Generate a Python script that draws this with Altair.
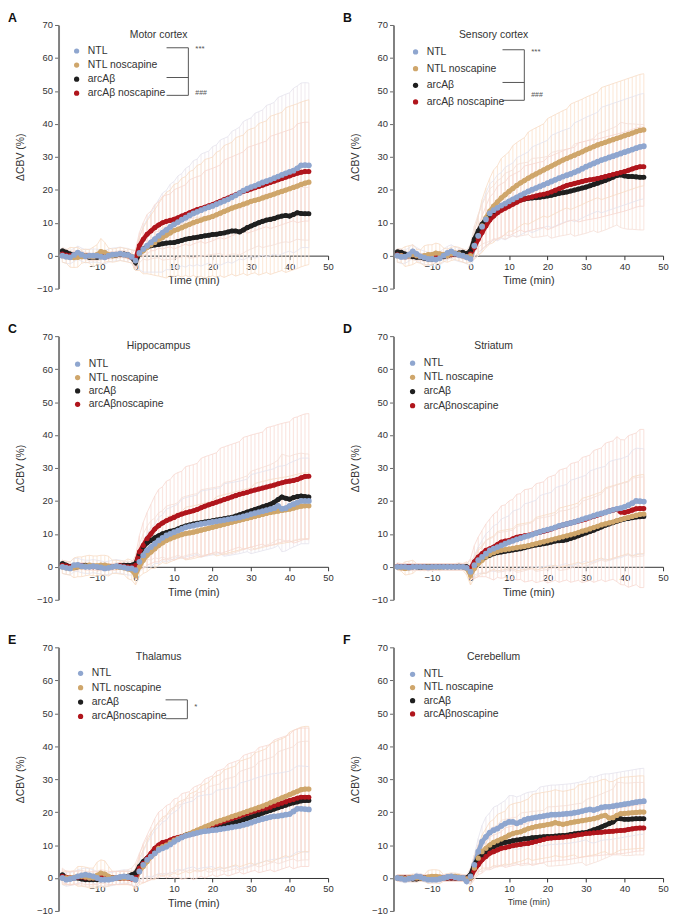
import altair as alt
import pandas as pd

FONT = "Liberation Sans"

# sample times (min)
TIME = [-19, -18, -17, -16, -15, -14, -13, -12, -11, -10, -9, -8, -7, -6, -5, -4, -3, -2, -1,
        0, 1, 2, 3, 4, 5, 6, 7, 8, 9, 10, 11, 12, 13, 14, 15, 16, 17, 18, 19, 20,
        21, 22, 23, 24, 25, 26, 27, 28, 29, 30, 31, 32, 33, 34, 35, 36, 37, 38, 39, 40,
        41, 42, 43, 44, 45]

LABELS_AB = ["NTL", "NTL noscapine", "arcAβ", "arcAβ noscapine"]
LABELS_CF = ["NTL", "NTL noscapine", "arcAβ", "arcAβnoscapine"]
DOT_COLORS = ["#8fa6cf", "#cfa66b", "#1f1f1f", "#b0151c"]
BAR_COLORS = ["#efe9ee", "#fbe5d2", "#f9e5dc", "#f9e0da"]
ENV_COLORS = ["#e5e3ee", "#f8dcc6", "#f5e0d8", "#f7d8d1"]
DRAW_ORDER = [3, 2, 0, 1]
DOT_SIZE = [34, 28, 26, 26]

LETTERS = ["A", "B", "C", "D", "E", "F"]
REGIONS = ["Motor cortex", "Sensory cortex", "Hippocampus", "Striatum", "Thalamus", "Cerebellum"]

# ---------------- mean ΔCBV (%) ----------------
A_NTL = [0.0, -0.3, -0.5, 0.2, 0.9, 0.3, -0.2, 0.0, 0.0, 0.0, -0.3, -0.5, 0.0, 0.3, 0.4, 0.6, 0.3, 0.2, -0.4,
         -1.5, 0.8, 2.0, 3.0, 4.0, 5.0, 6.0, 7.0, 7.8, 8.7, 9.5, 10.2, 10.9, 11.5, 12.2, 12.8, 13.3, 13.8, 14.3, 14.7, 15.1, 15.6, 16.1, 16.6, 17.1, 17.7, 18.3, 19.0, 19.7, 20.3, 20.8, 21.2, 21.7, 22.2, 22.6, 23.0, 23.5, 24.0, 24.5, 25.0, 25.4, 25.8, 26.5, 27.4, 27.5, 27.4]
A_NOS = [0.0, -0.3, -0.5, -0.6, -0.5, -0.3, 0.0, -0.2, -0.4, 0.3, 1.2, 1.0, 0.3, 0.0, 0.2, 0.5, 0.3, 0.0, -0.2,
         -1.5, 0.5, 1.5, 2.5, 3.3, 4.0, 4.8, 5.5, 6.2, 6.9, 7.6, 8.0, 8.5, 9.0, 9.5, 10.0, 10.4, 10.8, 11.2, 11.5, 11.9, 12.4, 12.9, 13.4, 13.9, 14.4, 14.8, 15.2, 15.6, 16.0, 16.5, 16.8, 17.1, 17.5, 17.9, 18.3, 18.7, 19.1, 19.5, 19.9, 20.3, 20.7, 21.1, 21.6, 22.0, 22.3]
A_ARC = [1.5, 1.0, 0.5, 0.3, 0.5, 0.2, -0.2, -0.5, -0.5, -0.5, -0.3, 0.0, 0.0, 0.0, 0.2, 0.3, 0.5, 0.3, -0.5,
         -2.0, 0.8, 2.0, 2.6, 3.0, 3.2, 3.4, 3.6, 3.8, 3.9, 4.0, 4.3, 4.6, 5.0, 5.2, 5.4, 5.6, 5.8, 6.0, 6.2, 6.4, 6.5, 6.7, 6.9, 7.2, 7.5, 7.5, 7.2, 7.8, 8.5, 9.0, 9.5, 10.0, 10.4, 10.8, 11.0, 11.3, 11.7, 12.0, 12.2, 12.0, 12.5, 13.0, 12.8, 12.7, 12.7]
A_ARCNOS = [0.5, 0.2, 0.0, 0.3, 0.5, 0.2, 0.0, -0.2, -0.3, 0.0, 0.0, -0.3, 0.0, 0.3, 0.3, 0.5, 0.3, 0.0, -0.5,
            -1.0, 3.0, 5.0, 6.5, 7.5, 8.5, 9.3, 10.0, 10.4, 10.7, 11.0, 11.5, 12.0, 12.5, 13.0, 13.5, 14.0, 14.3, 14.7, 15.1, 15.5, 16.0, 16.5, 17.0, 17.5, 18.0, 18.5, 19.0, 19.5, 19.8, 20.2, 20.6, 21.0, 21.4, 21.8, 22.2, 22.6, 23.0, 23.4, 23.8, 24.2, 24.6, 25.0, 25.3, 25.5, 25.5]

B_NTL = [0.0, -0.4, -0.3, 0.3, 1.3, 0.5, -0.2, -0.6, -1.0, -1.0, -1.2, -0.8, 0.0, 0.8, 1.3, 0.6, 0.2, 0.0, -0.5,
         -1.0, 3.0, 6.0, 8.8, 11.0, 12.8, 13.8, 14.5, 15.2, 15.8, 16.5, 17.1, 17.7, 18.3, 18.9, 19.5, 20.0, 20.5, 21.0, 21.5, 22.0, 22.5, 23.0, 23.5, 24.0, 24.4, 24.8, 25.3, 25.8, 26.4, 27.0, 27.5, 28.0, 28.5, 29.0, 29.4, 29.8, 30.2, 30.6, 31.0, 31.4, 31.8, 32.2, 32.6, 33.0, 33.2]
B_NOS = [0.0, 0.0, -0.3, 0.0, 0.3, 0.0, -0.3, 0.0, 0.3, 0.3, 0.8, 0.5, 0.3, 0.0, 0.5, 0.8, 0.5, 0.0, -0.3,
         0.0, 3.0, 6.0, 9.0, 11.5, 13.5, 15.0, 16.3, 17.5, 18.5, 19.5, 20.4, 21.3, 22.1, 22.8, 23.5, 24.2, 24.8, 25.4, 26.0, 26.6, 27.2, 27.8, 28.4, 29.0, 29.5, 30.0, 30.5, 31.0, 31.5, 32.1, 32.6, 33.1, 33.6, 34.0, 34.4, 34.8, 35.2, 35.6, 36.0, 36.4, 36.8, 37.2, 37.6, 38.0, 38.2]
B_ARC = [1.2, 1.0, 0.5, 0.0, -0.3, -0.5, -0.5, -0.8, -1.0, -1.0, -0.8, -0.5, -0.3, 0.0, 0.3, 0.5, 0.8, 1.0, 0.5,
         1.5, 5.0, 7.5, 9.5, 11.0, 12.3, 13.2, 13.8, 14.5, 15.0, 15.5, 16.0, 16.6, 17.0, 17.2, 17.4, 17.5, 17.6, 17.7, 17.9, 18.1, 18.3, 18.6, 18.9, 19.1, 19.3, 19.6, 19.9, 20.2, 20.5, 20.8, 21.2, 21.6, 22.0, 22.4, 22.8, 23.3, 23.8, 24.3, 24.5, 24.2, 24.0, 24.0, 23.9, 23.8, 23.8]
B_ARCNOS = [0.3, 0.0, -0.3, 0.0, 0.3, 0.0, -0.3, -0.5, -0.3, 0.0, 0.0, 0.3, 0.0, 0.0, 0.3, 0.5, 0.3, 0.0, -0.3,
            0.5, 2.5, 5.0, 7.0, 9.0, 10.8, 12.0, 13.0, 13.8, 14.4, 15.0, 15.6, 16.2, 16.8, 17.2, 17.5, 17.8, 18.1, 18.4, 18.6, 18.9, 19.3, 19.8, 20.3, 20.8, 21.3, 21.6, 21.9, 22.2, 22.5, 22.8, 23.0, 23.2, 23.4, 23.7, 24.0, 24.3, 24.6, 24.9, 25.2, 25.5, 25.9, 26.3, 26.7, 27.0, 27.0]

C_NTL = [0.0, -0.3, -0.5, 0.5, 0.6, 0.2, 0.0, 0.0, 0.2, 0.0, -0.2, -0.5, -0.3, 0.0, 0.2, 0.0, -0.2, -0.5, -0.5,
         -1.0, 1.5, 3.5, 5.0, 6.0, 7.0, 8.0, 8.8, 9.5, 10.0, 10.5, 11.0, 11.5, 12.0, 12.3, 12.5, 12.8, 13.0, 13.2, 13.4, 13.6, 13.8, 14.0, 14.2, 14.4, 14.6, 14.8, 15.0, 15.3, 15.6, 16.0, 16.3, 16.6, 16.9, 17.2, 17.5, 17.8, 18.5, 17.6, 17.8, 18.5, 19.0, 19.5, 20.0, 20.0, 20.0]
C_NOS = [0.0, -0.3, -0.5, -0.3, 0.0, 0.0, 0.3, 0.5, 0.3, 0.3, 0.5, 0.5, 0.2, 0.0, 0.0, -0.2, -0.3, -0.6, -1.0,
         -2.5, 0.0, 2.0, 3.5, 4.5, 5.5, 6.5, 7.3, 8.0, 8.5, 9.0, 9.4, 9.8, 10.1, 10.3, 10.5, 10.8, 11.1, 11.4, 11.7, 12.0, 12.3, 12.6, 12.9, 13.2, 13.5, 13.8, 14.1, 14.4, 14.7, 15.0, 15.3, 15.6, 15.9, 16.2, 16.5, 16.7, 16.9, 17.1, 17.3, 17.5, 17.8, 18.1, 18.4, 18.5, 18.5]
C_ARC = [1.0, 0.5, 0.0, -0.2, 0.0, 0.2, 0.5, 0.3, 0.0, 0.0, -0.2, 0.0, 0.0, 0.0, 0.2, 0.3, 0.5, 0.5, 0.5,
         1.0, 4.0, 6.0, 7.3, 8.0, 8.8, 9.4, 10.0, 10.4, 10.8, 11.0, 11.5, 12.0, 12.4, 12.7, 13.0, 13.2, 13.4, 13.6, 13.8, 14.0, 14.2, 14.4, 14.6, 14.8, 15.0, 15.4, 15.8, 16.2, 16.6, 17.0, 17.4, 17.8, 18.2, 18.6, 19.0, 19.6, 20.4, 21.2, 20.8, 20.5, 21.0, 21.3, 21.5, 21.3, 21.2]
C_ARCNOS = [0.5, 0.3, 0.0, 0.0, 0.2, 0.3, 0.0, 0.0, 0.0, 0.0, 0.0, 0.2, 0.0, 0.0, 0.0, 0.3, 0.2, 0.0, 0.0,
            0.5, 4.5, 6.5, 8.5, 10.0, 11.5, 12.5, 13.3, 14.0, 14.5, 15.0, 15.6, 16.0, 16.4, 16.7, 17.0, 17.4, 17.9, 18.4, 18.8, 19.2, 19.6, 20.0, 20.4, 20.8, 21.2, 21.6, 22.0, 22.3, 22.6, 23.0, 23.3, 23.6, 23.9, 24.2, 24.5, 24.8, 25.2, 25.5, 25.8, 26.0, 26.2, 26.5, 27.0, 27.4, 27.5]

D_NTL = [0.0, 0.0, 0.0, -0.2, 0.0, 0.0, 0.0, 0.0, -0.2, 0.0, 0.0, 0.0, 0.0, 0.0, 0.0, 0.0, 0.0, 0.0, -0.3,
         -1.5, 0.5, 2.0, 3.0, 4.0, 5.0, 5.5, 6.0, 6.5, 7.0, 7.5, 7.9, 8.3, 8.7, 9.1, 9.4, 9.8, 10.2, 10.6, 11.0, 11.3, 11.6, 12.0, 12.4, 12.7, 13.0, 13.3, 13.6, 14.0, 14.4, 14.8, 15.1, 15.5, 15.9, 16.2, 16.5, 16.9, 17.3, 17.6, 17.8, 18.2, 18.7, 19.3, 20.0, 19.9, 19.8]
D_NOS = [0.0, -0.3, -0.5, -0.3, 0.0, 0.0, 0.0, -0.2, 0.0, -0.2, 0.0, -0.2, 0.0, 0.0, 0.0, 0.0, 0.0, 0.0, -0.5,
         -2.5, -0.5, 1.0, 2.0, 3.0, 3.8, 4.3, 4.7, 5.0, 5.2, 5.4, 5.6, 5.8, 6.0, 6.2, 6.4, 6.7, 7.0, 7.3, 7.6, 7.9, 8.2, 8.5, 8.8, 9.1, 9.4, 9.7, 10.0, 10.4, 10.8, 11.1, 11.5, 11.9, 12.3, 12.7, 13.0, 13.3, 13.6, 14.0, 14.3, 14.7, 15.0, 15.3, 15.6, 15.9, 16.0]
D_ARC = [0.0, 0.0, 0.0, 0.0, 0.0, 0.0, -0.2, 0.0, 0.0, 0.0, 0.0, 0.0, 0.0, 0.0, 0.0, 0.0, 0.2, 0.0, 0.0,
         -1.0, 0.0, 1.5, 2.5, 3.0, 3.5, 4.0, 4.3, 4.5, 4.7, 4.9, 5.1, 5.3, 5.5, 5.8, 6.1, 6.4, 6.6, 6.8, 7.0, 7.2, 7.5, 7.8, 7.9, 8.0, 8.2, 8.6, 9.0, 9.4, 9.9, 10.3, 10.7, 11.1, 11.6, 12.1, 12.6, 13.0, 13.4, 13.8, 14.2, 14.5, 14.7, 14.9, 15.1, 15.2, 15.3]
D_ARCNOS = [0.2, 0.0, 0.0, 0.0, 0.0, 0.0, 0.0, 0.0, -0.2, 0.0, 0.0, 0.0, 0.0, 0.0, 0.0, 0.0, 0.0, 0.0, -0.2,
            -0.5, 1.5, 3.0, 4.0, 5.0, 5.5, 6.0, 6.8, 7.5, 7.8, 8.0, 8.5, 9.0, 9.2, 9.4, 9.6, 9.9, 10.2, 10.5, 10.8, 11.1, 11.5, 11.9, 12.3, 12.7, 13.0, 13.3, 13.6, 13.9, 14.2, 14.5, 14.9, 15.3, 15.7, 16.1, 16.5, 16.9, 17.2, 17.5, 16.6, 16.5, 16.8, 17.2, 17.6, 17.7, 17.7]

E_NTL = [0.0, -0.5, -0.3, 0.0, 0.5, 0.8, 1.0, 0.8, 0.5, 0.0, -0.5, -0.5, -0.5, -0.3, 0.0, 0.3, 0.5, 0.3, 0.0,
         -0.5, 2.0, 4.0, 5.5, 6.5, 7.5, 8.5, 9.0, 9.5, 10.2, 11.0, 11.7, 12.3, 12.8, 13.1, 13.4, 13.7, 14.0, 14.2, 14.3, 14.5, 14.6, 14.8, 15.0, 15.2, 15.4, 15.6, 15.8, 16.1, 16.4, 16.8, 17.2, 17.6, 17.9, 18.2, 18.5, 18.7, 18.8, 19.0, 19.2, 19.4, 20.2, 21.0, 21.0, 20.9, 20.8]
E_NOS = [0.0, 0.0, 0.0, 0.2, 0.5, 0.5, 0.3, 0.0, 0.0, 0.8, 1.5, 1.2, 0.5, 0.0, 0.0, 0.0, 0.0, 0.0, 0.0,
         -0.5, 2.0, 3.5, 5.0, 6.5, 7.5, 9.0, 9.5, 10.0, 10.8, 11.5, 12.0, 12.5, 13.0, 13.5, 14.0, 14.5, 15.0, 15.5, 16.0, 16.5, 17.0, 17.4, 17.8, 18.2, 18.6, 19.0, 19.4, 19.8, 20.2, 20.6, 21.0, 21.4, 21.8, 22.3, 22.8, 23.3, 23.8, 24.3, 24.8, 25.3, 25.8, 26.3, 26.8, 27.0, 27.0]
E_ARC = [1.0, 0.0, -0.2, 0.0, 0.0, -0.3, -0.5, -0.5, -0.5, -0.5, -0.5, -0.5, -0.3, 0.0, 0.0, 0.0, 0.3, 0.5, 1.0,
         1.5, 3.5, 5.0, 6.0, 7.0, 8.0, 9.0, 9.5, 10.0, 10.8, 11.5, 12.0, 12.5, 13.0, 13.3, 13.5, 13.8, 14.1, 14.4, 14.7, 15.0, 15.3, 15.6, 15.9, 16.2, 16.5, 16.9, 17.3, 17.7, 18.1, 18.5, 18.9, 19.3, 19.7, 20.1, 20.5, 20.9, 21.3, 21.7, 22.1, 22.5, 22.8, 23.1, 23.4, 23.5, 23.5]
E_ARCNOS = [0.5, 0.2, 0.0, 0.0, 0.2, 0.3, 0.0, 0.0, 0.0, 0.0, 0.5, 0.3, 0.0, 0.0, 0.0, 0.0, 0.0, 0.0, -0.3,
            0.0, 3.0, 4.5, 6.0, 7.5, 9.0, 10.0, 10.8, 11.0, 11.5, 12.0, 12.3, 12.6, 12.9, 13.2, 13.5, 14.0, 14.5, 15.0, 15.5, 16.0, 16.4, 16.8, 17.2, 17.6, 18.0, 18.4, 18.8, 19.2, 19.6, 20.0, 20.3, 20.6, 20.9, 21.2, 21.5, 21.9, 22.3, 22.7, 23.1, 23.5, 23.8, 24.2, 24.5, 24.5, 24.5]

F_NTL = [0.0, -0.2, -0.5, -0.2, 0.0, 0.5, 0.3, -0.2, -0.5, -0.5, -0.5, -0.3, 0.0, 0.3, 0.5, 0.2, 0.0, 0.0, -1.0,
         0.5, 4.0, 8.0, 11.0, 12.5, 13.8, 14.5, 15.0, 15.8, 16.5, 17.0, 17.0, 16.6, 17.0, 17.6, 18.0, 18.2, 18.4, 18.6, 18.8, 19.0, 19.2, 19.2, 19.3, 19.4, 19.5, 19.6, 19.8, 20.0, 20.3, 20.6, 20.8, 20.6, 21.0, 21.4, 21.6, 21.6, 21.8, 22.0, 22.2, 22.4, 22.6, 22.8, 23.0, 23.2, 23.3]
F_NOS = [0.0, 0.0, -0.2, 0.0, 0.2, 0.0, 0.0, 0.0, 0.3, 0.5, 0.5, 0.3, 0.0, 0.3, 0.5, 0.5, 0.3, 0.0, -0.3,
         0.0, 3.0, 6.0, 8.0, 9.0, 10.0, 10.8, 11.3, 11.8, 12.3, 13.0, 13.5, 13.8, 14.0, 14.5, 15.0, 15.3, 15.6, 15.8, 16.0, 16.2, 16.4, 16.8, 16.5, 16.3, 16.5, 16.8, 17.0, 17.2, 17.4, 17.6, 17.8, 18.0, 18.3, 18.8, 19.0, 18.2, 18.3, 19.0, 19.5, 19.6, 19.7, 19.8, 19.9, 20.0, 20.0]
F_ARC = [0.0, 0.0, 0.0, -0.2, -0.3, -0.3, 0.0, 0.0, 0.0, 0.0, 0.0, 0.0, 0.0, 0.0, 0.0, 0.0, 0.0, 0.0, 0.0,
         1.0, 4.0, 6.0, 7.0, 8.0, 9.0, 9.5, 10.0, 10.5, 10.8, 11.0, 11.3, 11.5, 11.7, 11.9, 12.0, 12.2, 12.3, 12.4, 12.5, 12.6, 12.6, 12.7, 12.8, 12.9, 13.0, 13.2, 13.4, 13.6, 13.7, 13.8, 14.2, 14.6, 15.0, 15.5, 16.0, 16.5, 17.0, 18.0, 18.0, 17.8, 17.8, 17.9, 18.0, 18.0, 18.0]
F_ARCNOS = [0.0, 0.0, 0.0, 0.0, 0.0, 0.0, 0.2, 0.0, 0.0, 0.0, 0.0, 0.0, 0.0, 0.0, 0.0, 0.0, 0.0, 0.0, -0.2,
            0.0, 2.5, 4.0, 5.5, 6.5, 7.5, 8.0, 8.5, 9.0, 9.2, 9.5, 9.8, 10.0, 10.2, 10.4, 10.5, 10.8, 11.1, 11.4, 11.7, 12.0, 12.1, 12.2, 12.3, 12.4, 12.5, 12.7, 12.9, 13.1, 13.3, 13.5, 13.6, 13.7, 13.8, 13.9, 14.0, 14.1, 14.2, 14.3, 14.4, 14.5, 14.7, 14.9, 15.1, 15.2, 15.2]

# ---------------- error (±, %) ----------------
A_NTL_E = [2, 2, 2, 2, 2, 2, 2, 2, 2, 2, 2, 2, 2, 2, 2, 2, 2, 2, 2,
           3, 5, 7, 8, 9, 10, 11, 12, 12, 13, 13, 14, 14, 15, 15, 16, 16, 17, 17, 17, 18, 18, 19, 19, 19, 20, 20, 20, 21, 21, 21, 22, 22, 22, 23, 23, 23, 24, 24, 24, 24, 25, 25, 25, 25, 25]
A_NOS_E = [2, 2, 3, 3, 3, 2, 2, 2, 3, 3, 4, 3, 2, 2, 2, 2, 2, 2, 2,
           3, 5, 7, 8, 9, 10, 11, 12, 13, 13, 14, 14, 15, 15, 16, 16, 17, 17, 18, 18, 18, 19, 19, 20, 20, 20, 21, 21, 21, 22, 22, 22, 23, 23, 23, 24, 24, 24, 24, 25, 25, 25, 25, 25, 25, 25]
A_ARC_E = [1, 1, 1, 1, 1, 1, 1, 1, 1, 1, 1, 1, 1, 1, 1, 1, 1, 1, 1,
           2, 3, 3, 4, 4, 4, 4, 5, 5, 5, 5, 5, 5, 5, 6, 6, 6, 6, 6, 6, 6, 6, 6, 7, 7, 7, 7, 7, 7, 7, 7, 7, 7, 8, 8, 8, 8, 8, 8, 8, 8, 8, 8, 8, 8, 8]
A_ARCNOS_E = [1, 1, 1, 1, 1, 1, 1, 1, 1, 1, 1, 1, 1, 1, 1, 1, 1, 1, 1,
              3, 4, 5, 6, 6, 7, 7, 8, 8, 8, 9, 9, 9, 9, 10, 10, 10, 10, 11, 11, 11, 11, 11, 12, 12, 12, 12, 12, 12, 13, 13, 13, 13, 13, 13, 14, 14, 14, 14, 14, 14, 14, 15, 15, 15, 15]

B_NTL_E = [2, 2, 2, 2, 2, 2, 2, 2, 2, 2, 2, 2, 2, 2, 2, 2, 2, 2, 2,
           2, 4, 6, 7, 8, 9, 9, 10, 10, 11, 11, 11, 12, 12, 12, 12, 13, 13, 13, 13, 13, 14, 14, 14, 14, 14, 14, 15, 15, 15, 15, 15, 15, 15, 16, 16, 16, 16, 16, 16, 16, 16, 16, 16, 16, 16]
B_NOS_E = [2, 2, 3, 3, 3, 2, 2, 3, 3, 3, 3, 3, 2, 2, 2, 2, 2, 2, 2,
           2, 4, 6, 8, 9, 10, 11, 11, 12, 12, 12, 13, 13, 13, 13, 14, 14, 14, 14, 14, 15, 15, 15, 15, 15, 15, 16, 16, 16, 16, 16, 16, 16, 16, 17, 17, 17, 17, 17, 17, 17, 17, 17, 17, 17, 17]
B_ARC_E = [1, 1, 1, 1, 1, 1, 1, 1, 1, 1, 1, 1, 1, 1, 1, 1, 1, 1, 1,
           2, 4, 5, 6, 7, 8, 8, 9, 9, 10, 10, 10, 11, 11, 11, 11, 12, 12, 12, 12, 12, 13, 13, 13, 13, 13, 13, 14, 14, 14, 14, 14, 14, 15, 15, 15, 15, 15, 15, 16, 16, 16, 16, 16, 16, 16]
B_ARCNOS_E = [1, 1, 1, 1, 1, 1, 1, 1, 1, 1, 1, 1, 1, 1, 1, 1, 1, 1, 1,
              2, 3, 4, 5, 6, 7, 7, 8, 8, 8, 9, 9, 9, 9, 10, 10, 10, 10, 10, 10, 11, 11, 11, 11, 11, 11, 11, 11, 12, 12, 12, 12, 12, 12, 12, 12, 12, 12, 12, 12, 12, 12, 12, 12, 12, 12]

C_NTL_E = [2, 2, 2, 2, 2, 2, 2, 2, 2, 2, 2, 2, 2, 2, 2, 2, 2, 2, 2,
           2, 3, 4, 5, 6, 6, 7, 7, 8, 8, 8, 8, 9, 9, 9, 9, 9, 10, 10, 10, 10, 10, 10, 11, 11, 11, 11, 11, 11, 11, 12, 12, 12, 12, 12, 12, 12, 12, 13, 13, 13, 13, 13, 13, 13, 13]
C_NOS_E = [2, 2, 2, 3, 3, 3, 3, 3, 3, 3, 3, 3, 3, 2, 2, 2, 2, 3, 3,
           3, 3, 4, 5, 5, 6, 6, 6, 7, 7, 7, 7, 7, 8, 8, 8, 8, 8, 8, 8, 8, 9, 9, 9, 9, 9, 9, 9, 9, 9, 9, 10, 10, 10, 10, 10, 10, 10, 10, 10, 10, 10, 10, 10, 10, 10]
C_ARC_E = [1, 1, 1, 1, 1, 1, 1, 1, 1, 1, 1, 1, 1, 1, 1, 1, 1, 1, 1,
           2, 3, 4, 5, 6, 6, 7, 7, 8, 8, 8, 8, 9, 9, 9, 9, 9, 10, 10, 10, 10, 10, 10, 11, 11, 11, 11, 11, 11, 11, 12, 12, 12, 12, 12, 12, 12, 12, 13, 13, 13, 13, 13, 13, 13, 13]
C_ARCNOS_E = [1, 1, 1, 1, 1, 1, 1, 1, 1, 1, 1, 1, 1, 1, 1, 1, 1, 1, 1,
              3, 5, 7, 8, 9, 10, 11, 11, 12, 12, 13, 13, 13, 14, 14, 14, 14, 15, 15, 15, 15, 15, 16, 16, 16, 16, 16, 16, 17, 17, 17, 17, 17, 17, 18, 18, 18, 18, 18, 18, 18, 19, 19, 19, 19, 19]

D_NTL_E = [1, 1, 1, 1, 1, 1, 1, 1, 1, 1, 1, 1, 1, 1, 1, 1, 1, 1, 1,
           2, 3, 4, 5, 6, 6, 7, 7, 8, 8, 8, 9, 9, 9, 10, 10, 10, 10, 11, 11, 11, 11, 12, 12, 12, 12, 13, 13, 13, 13, 13, 14, 14, 14, 14, 14, 15, 15, 15, 15, 15, 15, 16, 16, 16, 16]
D_NOS_E = [1, 1, 2, 2, 2, 1, 1, 1, 1, 1, 1, 1, 1, 1, 1, 1, 1, 1, 2,
           3, 3, 4, 4, 5, 5, 5, 6, 6, 6, 6, 6, 7, 7, 7, 7, 7, 8, 8, 8, 8, 8, 8, 9, 9, 9, 9, 9, 9, 10, 10, 10, 10, 10, 10, 11, 11, 11, 11, 11, 11, 11, 12, 12, 12, 12]
D_ARC_E = [1, 1, 1, 1, 1, 1, 1, 1, 1, 1, 1, 1, 1, 1, 1, 1, 1, 1, 1,
           3, 3, 4, 4, 5, 5, 5, 6, 6, 6, 6, 6, 7, 7, 7, 7, 7, 8, 8, 8, 8, 8, 8, 9, 9, 9, 9, 9, 9, 10, 10, 10, 10, 10, 10, 11, 11, 11, 11, 11, 11, 11, 12, 12, 12, 12]
D_ARCNOS_E = [1, 1, 1, 1, 1, 1, 1, 1, 1, 1, 1, 1, 1, 1, 1, 1, 1, 1, 1,
              3, 5, 6, 7, 8, 9, 10, 10, 11, 11, 12, 12, 13, 13, 14, 14, 14, 15, 15, 15, 16, 16, 16, 17, 17, 17, 18, 18, 18, 19, 19, 19, 20, 20, 20, 21, 21, 21, 22, 22, 22, 23, 23, 23, 24, 24]

E_NTL_E = [2, 2, 2, 2, 2, 2, 2, 2, 2, 2, 2, 2, 2, 2, 2, 2, 2, 2, 2,
           2, 3, 4, 5, 6, 7, 7, 8, 8, 9, 9, 9, 10, 10, 10, 10, 11, 11, 11, 11, 11, 12, 12, 12, 12, 12, 12, 13, 13, 13, 13, 13, 13, 13, 13, 13, 13, 13, 13, 13, 13, 13, 13, 13, 13, 13]
E_NOS_E = [2, 2, 2, 2, 3, 3, 3, 3, 3, 4, 4, 4, 3, 2, 2, 2, 2, 2, 2,
           3, 4, 5, 6, 7, 8, 8, 9, 9, 10, 10, 11, 11, 11, 12, 12, 12, 13, 13, 13, 14, 14, 14, 15, 15, 15, 15, 16, 16, 16, 16, 17, 17, 17, 17, 18, 18, 18, 18, 18, 19, 19, 19, 19, 19, 19]
E_ARC_E = [2, 2, 2, 2, 2, 2, 2, 2, 2, 2, 2, 2, 2, 2, 2, 2, 2, 2, 2,
           3, 4, 5, 6, 7, 7, 8, 8, 9, 9, 10, 10, 10, 11, 11, 11, 12, 12, 12, 13, 13, 13, 13, 14, 14, 14, 14, 15, 15, 15, 15, 15, 16, 16, 16, 16, 16, 17, 17, 17, 17, 17, 18, 18, 18, 18]
E_ARCNOS_E = [2, 2, 2, 2, 2, 2, 2, 2, 2, 2, 2, 2, 2, 2, 2, 2, 2, 2, 2,
              3, 4, 6, 7, 8, 9, 10, 10, 11, 11, 12, 12, 13, 13, 13, 14, 14, 14, 15, 15, 15, 16, 16, 16, 17, 17, 17, 17, 18, 18, 18, 18, 19, 19, 19, 19, 20, 20, 20, 20, 20, 21, 21, 21, 21, 21]

F_NTL_E = [1, 1, 1, 1, 1, 1, 1, 1, 1, 1, 1, 1, 1, 1, 1, 1, 1, 1, 1,
           2, 3, 4, 5, 6, 6, 7, 7, 7, 7, 8, 8, 8, 8, 8, 8, 8, 8, 9, 9, 9, 9, 9, 9, 9, 9, 9, 9, 9, 9, 9, 10, 10, 10, 10, 10, 10, 10, 10, 10, 10, 10, 10, 10, 10, 10]
F_NOS_E = [1, 1, 1, 1, 1, 1, 1, 1, 2, 2, 2, 2, 1, 1, 1, 1, 1, 1, 1,
           2, 3, 4, 5, 6, 7, 7, 8, 8, 8, 9, 9, 9, 9, 9, 9, 10, 10, 10, 10, 10, 10, 10, 10, 10, 10, 10, 10, 11, 11, 11, 11, 11, 11, 11, 11, 11, 11, 11, 11, 11, 11, 11, 11, 11, 11]
F_ARC_E = [1, 1, 1, 1, 1, 1, 1, 1, 1, 1, 1, 1, 1, 1, 1, 1, 1, 1, 1,
           2, 3, 4, 5, 5, 6, 6, 6, 7, 7, 7, 7, 7, 8, 8, 8, 8, 8, 8, 8, 9, 9, 9, 9, 9, 9, 9, 9, 9, 9, 10, 10, 10, 10, 10, 10, 10, 10, 11, 11, 11, 11, 11, 11, 11, 11]
F_ARCNOS_E = [1, 1, 1, 1, 1, 1, 1, 1, 1, 1, 1, 1, 1, 1, 1, 1, 1, 1, 1,
              2, 3, 3, 4, 4, 5, 5, 5, 5, 6, 6, 6, 6, 6, 6, 6, 7, 7, 7, 7, 7, 7, 7, 7, 7, 7, 7, 7, 7, 7, 7, 7, 7, 7, 7, 7, 7, 7, 7, 7, 7, 7, 7, 7, 7, 7]

MEANS = {
    "A": [A_NTL, A_NOS, A_ARC, A_ARCNOS],
    "B": [B_NTL, B_NOS, B_ARC, B_ARCNOS],
    "C": [C_NTL, C_NOS, C_ARC, C_ARCNOS],
    "D": [D_NTL, D_NOS, D_ARC, D_ARCNOS],
    "E": [E_NTL, E_NOS, E_ARC, E_ARCNOS],
    "F": [F_NTL, F_NOS, F_ARC, F_ARCNOS],
}
ERRS = {
    "A": [A_NTL_E, A_NOS_E, A_ARC_E, A_ARCNOS_E],
    "B": [B_NTL_E, B_NOS_E, B_ARC_E, B_ARCNOS_E],
    "C": [C_NTL_E, C_NOS_E, C_ARC_E, C_ARCNOS_E],
    "D": [D_NTL_E, D_NOS_E, D_ARC_E, D_ARCNOS_E],
    "E": [E_NTL_E, E_NOS_E, E_ARC_E, E_ARCNOS_E],
    "F": [F_NTL_E, F_NOS_E, F_ARC_E, F_ARCNOS_E],
}

W, H = 272, 266

# legend placement per panel: (symbol-centre x, first-row centre y, row pitch)
LEGEND_POS = {"A": (16, 27, 13.7), "B": (20, 28, 16.3), "C": (17, 29, 13.0),
              "D": (17, 28, 13.8), "E": (20, 27, 14.0), "F": (17, 28, 12.8)}


def frame(letter, labels):
    rows = []
    for i in range(4):
        m = MEANS[letter][i]
        e = ERRS[letter][i]
        assert len(m) == len(TIME), (letter, i, len(m))
        assert len(e) == len(TIME), (letter, i, "err", len(e))
        for t, v, s in zip(TIME, m, e):
            rows.append({"t": t, "mean": v, "lo": v - s, "hi": v + s,
                         "label": labels[i], "bar": BAR_COLORS[i], "env": ENV_COLORS[i],
                         "dot": DOT_COLORS[i], "draw": DRAW_ORDER[i], "sz": DOT_SIZE[i]})
    return pd.DataFrame(rows)


XSCALE = alt.Scale(domain=[-20, 50], nice=False, zero=False)
YSCALE = alt.Scale(domain=[-10, 70], nice=False, zero=False)
TEXT_COLOR = "#333333"


def xenc(title_size):
    return alt.X("t:Q", scale=XSCALE,
                 axis=alt.Axis(values=[-10, 0, 10, 20, 30, 40, 50], offset=-H / 8,
                               title="Time (min)", titleFontSize=title_size,
                               labelFlush=False, domainColor="#333333", domainWidth=1,
                               tickColor="#333333", tickSize=4, labelFontSize=9.5,
                               labelPadding=2, titlePadding=4, labelColor=TEXT_COLOR,
                               titleColor=TEXT_COLOR, titleFontWeight="normal"))


def yenc(field):
    return alt.Y(f"{field}:Q", scale=YSCALE,
                 axis=alt.Axis(values=[-10, 0, 10, 20, 30, 40, 50, 60, 70], title="ΔCBV (%)",
                               domainColor="#808080", domainWidth=2, tickColor="#666666",
                               tickSize=4, labelFontSize=9.5, labelPadding=2, titlePadding=11,
                               titleFontSize=10.5, labelColor=TEXT_COLOR, titleColor=TEXT_COLOR,
                               titleFontWeight="normal"))


ONE = alt.Data(values=[{}])


def txt(s, x, y, size=11, align="left", baseline="middle", weight="normal", color=TEXT_COLOR):
    return alt.Chart(ONE).mark_text(text=s, fontSize=size, align=align, baseline=baseline,
                                    font=FONT, fontWeight=weight, color=color).encode(
        x=alt.value(x), y=alt.value(y))


def hline(x1, x2, y):
    return alt.Chart(ONE).mark_rule(color="#555555", strokeWidth=1).encode(
        x=alt.value(x1), x2=alt.value(x2), y=alt.value(y))


def vline(x, y1, y2):
    return alt.Chart(ONE).mark_rule(color="#555555", strokeWidth=1).encode(
        x=alt.value(x), y=alt.value(y1), y2=alt.value(y2))


def panel(idx):
    letter = LETTERS[idx]
    labels = LABELS_AB if letter in ("A", "B") else LABELS_CF
    df = frame(letter, labels)
    xt = 9 if letter == "F" else 11
    sx, sy, pitch = LEGEND_POS[letter]

    bars = alt.Chart(df).mark_rule(strokeWidth=1.2, opacity=0.8).encode(
        x=xenc(xt), y=yenc("lo"), y2="hi:Q", stroke=alt.Stroke("bar:N", scale=None))
    upper = alt.Chart(df).mark_line(strokeWidth=0.9, opacity=0.9).encode(
        x=xenc(xt), y=yenc("hi"), detail="label:N", stroke=alt.Stroke("env:N", scale=None))
    lower = alt.Chart(df).mark_line(strokeWidth=0.9, opacity=0.9).encode(
        x=xenc(xt), y=yenc("lo"), detail="label:N", stroke=alt.Stroke("env:N", scale=None))
    band = alt.Chart(df).mark_line(strokeWidth=4.5, opacity=1).encode(
        x=xenc(xt), y=yenc("mean"), detail="label:N", stroke=alt.Stroke("dot:N", scale=None),
        order=alt.Order("t:Q"))
    dots = alt.Chart(df).mark_circle(opacity=1).encode(
        x=xenc(xt), y=yenc("mean"),
        color=alt.Color("label:N", scale=alt.Scale(domain=labels, range=DOT_COLORS),
                        legend=alt.Legend(orient="none", legendX=sx - 3, legendY=sy - 6,
                                          title=None, symbolType="circle", symbolSize=28,
                                          symbolStrokeWidth=0, symbolOpacity=1,
                                          labelFont=FONT, labelFontSize=10.5,
                                          labelColor=TEXT_COLOR, rowPadding=pitch - 10.5,
                                          padding=0, labelOffset=6)),
        size=alt.Size("sz:Q", scale=None),
        order=alt.Order("draw:Q"))

    layers = [bars, upper, lower, band, dots,
              txt(REGIONS[idx], 101, 10, size=10.5, align="center"),
              txt(letter, -51, -3, size=12.5, baseline="alphabetic", weight="bold", color="#111111")]

    if letter == "A":
        layers += [hline(109, 131, 23), hline(109, 131, 53), hline(109, 131, 71), vline(131, 23, 71),
                   txt("***", 138, 24, size=8, color="#555555"), txt("###", 138, 69, size=7, color="#555555")]
    if letter == "B":
        layers += [hline(110, 132, 25), hline(110, 132, 58), hline(110, 132, 76), vline(132, 25, 76),
                   txt("***", 139, 27, size=8, color="#555555"), txt("###", 139, 71, size=7, color="#555555")]
    if letter == "E":
        layers += [hline(108, 130, 53), hline(108, 130, 72), vline(130, 53, 72),
                   txt("*", 137, 60, size=8, color="#555555")]

    return alt.layer(*layers).properties(width=W, height=H)


charts = [panel(i) for i in range(6)]

chart = alt.concat(*charts, columns=2, spacing={"row": 30, "column": 9}).resolve_scale(
    color="independent"
).resolve_legend(
    color="independent"
).properties(
    padding={"left": 0, "top": 0, "right": 0, "bottom": 0},
    background="white",
).configure_view(
    stroke=None
).configure_axis(
    grid=False, labelFont=FONT, titleFont=FONT, titleFontWeight="normal"
).configure_text(
    font=FONT
)

chart.save("out.html", embed_options={"renderer": "svg", "actions": False})
